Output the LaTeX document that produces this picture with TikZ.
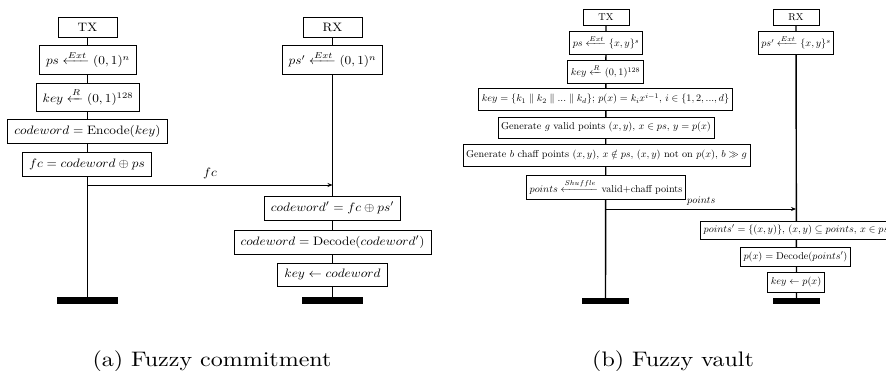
\documentclass[tikz,border=0pt]{standalone}
\usepackage{amsmath,amssymb,graphicx}
\usetikzlibrary{arrows.meta,backgrounds}
\newcommand{\ltxt}[1]{\scalebox{1.33}[1.22]{#1}}
\newcommand{\rtxt}[1]{\scalebox{1.02}[1.0]{#1}}
\tikzset{
  lbox/.style={draw, line width=0.9pt, fill=white, inner xsep=6.5pt, inner ysep=0pt, minimum height=24pt},
  rbox/.style={draw, line width=0.8pt, fill=white, inner xsep=3pt, inner ysep=0pt, minimum height=21pt},
  endbar/.style={fill=black, inner sep=0pt, minimum height=7pt},
  life/.style={line width=1.4pt},
  msg/.style={line width=0.8pt, -{Stealth[length=5pt,width=4pt]}},
  capt/.style={anchor=base}
}
\begin{document}
\begin{tikzpicture}[x=1pt,y=-1pt]
\useasboundingbox (0,0) rectangle (886,371);
% ---------- (a) Fuzzy commitment ----------
\node[lbox, minimum width=59pt, minimum height=20pt] (ltx) at (87.5,27) {\ltxt{TX}};
\node[lbox, minimum height=29pt] (lps) at (88,59.5) {\ltxt{$ps \xleftarrow{Ext} (0,1)^n$}};
\node[lbox, minimum height=28pt] (lkey) at (88,97) {\ltxt{$key \xleftarrow{R} (0,1)^{128}$}};
\node[lbox] (lcw) at (87.5,131) {\ltxt{$codeword = \text{Encode}(key)$}};
\node[lbox] (lfc) at (87,164) {\ltxt{$fc = codeword \oplus ps$}};
\node[endbar, minimum width=61pt] (ltxend) at (87.5,300.5) {};
\node[lbox, minimum width=59pt, minimum height=20pt] (lrx) at (332.5,27) {\ltxt{RX}};
\node[lbox, minimum height=29pt] (lps2) at (332.5,59.5) {\ltxt{$ps' \xleftarrow{Ext} (0,1)^n$}};
\node[lbox] (lcw2) at (332.5,208) {\ltxt{$codeword' = fc \oplus ps'$}};
\node[lbox] (ldec) at (332.5,242) {\ltxt{$codeword = \text{Decode}(codeword')$}};
\node[lbox, minimum height=23pt] (lkey2) at (332.5,274.5) {\ltxt{$key \leftarrow codeword$}};
\node[endbar, minimum width=61pt] (lrxend) at (332.5,300.5) {};
\coordinate (lm1) at (87.5,185);
\coordinate (lm2) at (332.5,185);
\draw[msg] (lm1) -- (lm2) node[midway, above=2pt] (lfclab) {\ltxt{$fc$}};
\node[capt] (capa) at (212,366) {\scalebox{2.4}[2.1]{(a) Fuzzy commitment}};
% ---------- (b) Fuzzy vault ----------
\node[rbox, minimum width=46pt, minimum height=16pt] (rtx) at (606,17) {\rtxt{TX}};
\node[rbox, minimum height=23pt] (rps) at (606,42.5) {\rtxt{$ps \xleftarrow{Ext} \{x,y\}^s$}};
\node[rbox, minimum height=23pt] (rkey) at (605.5,71.5) {\rtxt{$key \xleftarrow{R} (0,1)^{128}$}};
\node[rbox, minimum height=22pt] (rpoly) at (605.5,99) {\rtxt{$key = \{k_1 \parallel k_2 \parallel ... \parallel k_d\}$; $p(x) = k_i x^{i-1}$, $i \in \{1,2,...,d\}$}};
\node[rbox] (rgen) at (606,127.5) {\rtxt{Generate $g$ valid points $(x,y)$, $x \in ps$, $y = p(x)$}};
\node[rbox, minimum height=22pt] (rchaff) at (606.5,155) {\rtxt{Generate $b$ chaff points $(x,y)$, $x \notin ps$, $(x,y)$ not on $p(x)$, $b \gg g$}};
\node[rbox, minimum height=24pt] (rshuf) at (606,187) {\rtxt{$points \xleftarrow{Shuffle}$ valid+chaff points}};
\node[endbar, minimum width=47pt, minimum height=6pt] (rtxend) at (605.5,301) {};
\node[rbox, minimum width=46pt, minimum height=16pt] (rrx) at (796,17) {\rtxt{RX}};
\node[rbox, minimum height=23pt] (rps2) at (796,42.5) {\rtxt{$ps' \xleftarrow{Ext} \{x,y\}^s$}};
\node[rbox, minimum height=18pt] (rsel) at (796,230) {\rtxt{$points' = \{(x,y)\}$, $(x,y) \subseteq points$, $x \in ps$}};
\node[rbox, minimum height=19pt] (rdec) at (795.5,256.5) {\rtxt{$p(x) = \text{Decode}(points')$}};
\node[rbox, minimum height=20pt] (rkey2) at (796,282) {\rtxt{$key \leftarrow p(x)$}};
\node[endbar, minimum width=47pt, minimum height=6pt] (rrxend) at (796.5,301) {};
\coordinate (rm1) at (606,209);
\coordinate (rm2) at (796,209);
\draw[msg] (rm1) -- (rm2);
\node[anchor=west, inner sep=1pt] (rplab) at (686,201) {\rtxt{$points$}};
\node[capt] (capb) at (673,366) {\scalebox{2.4}[2.1]{(b) Fuzzy vault}};
% ---------- lifelines ----------
\begin{scope}[on background layer]
\draw[life] (ltx.south) -- (ltxend.north);
\draw[life] (lrx.south) -- (lrxend.north);
\draw[life] (rtx.south) -- (rtxend.north);
\draw[life] (rrx.south) -- (rrxend.north);
\end{scope}
\end{tikzpicture}
\end{document}
